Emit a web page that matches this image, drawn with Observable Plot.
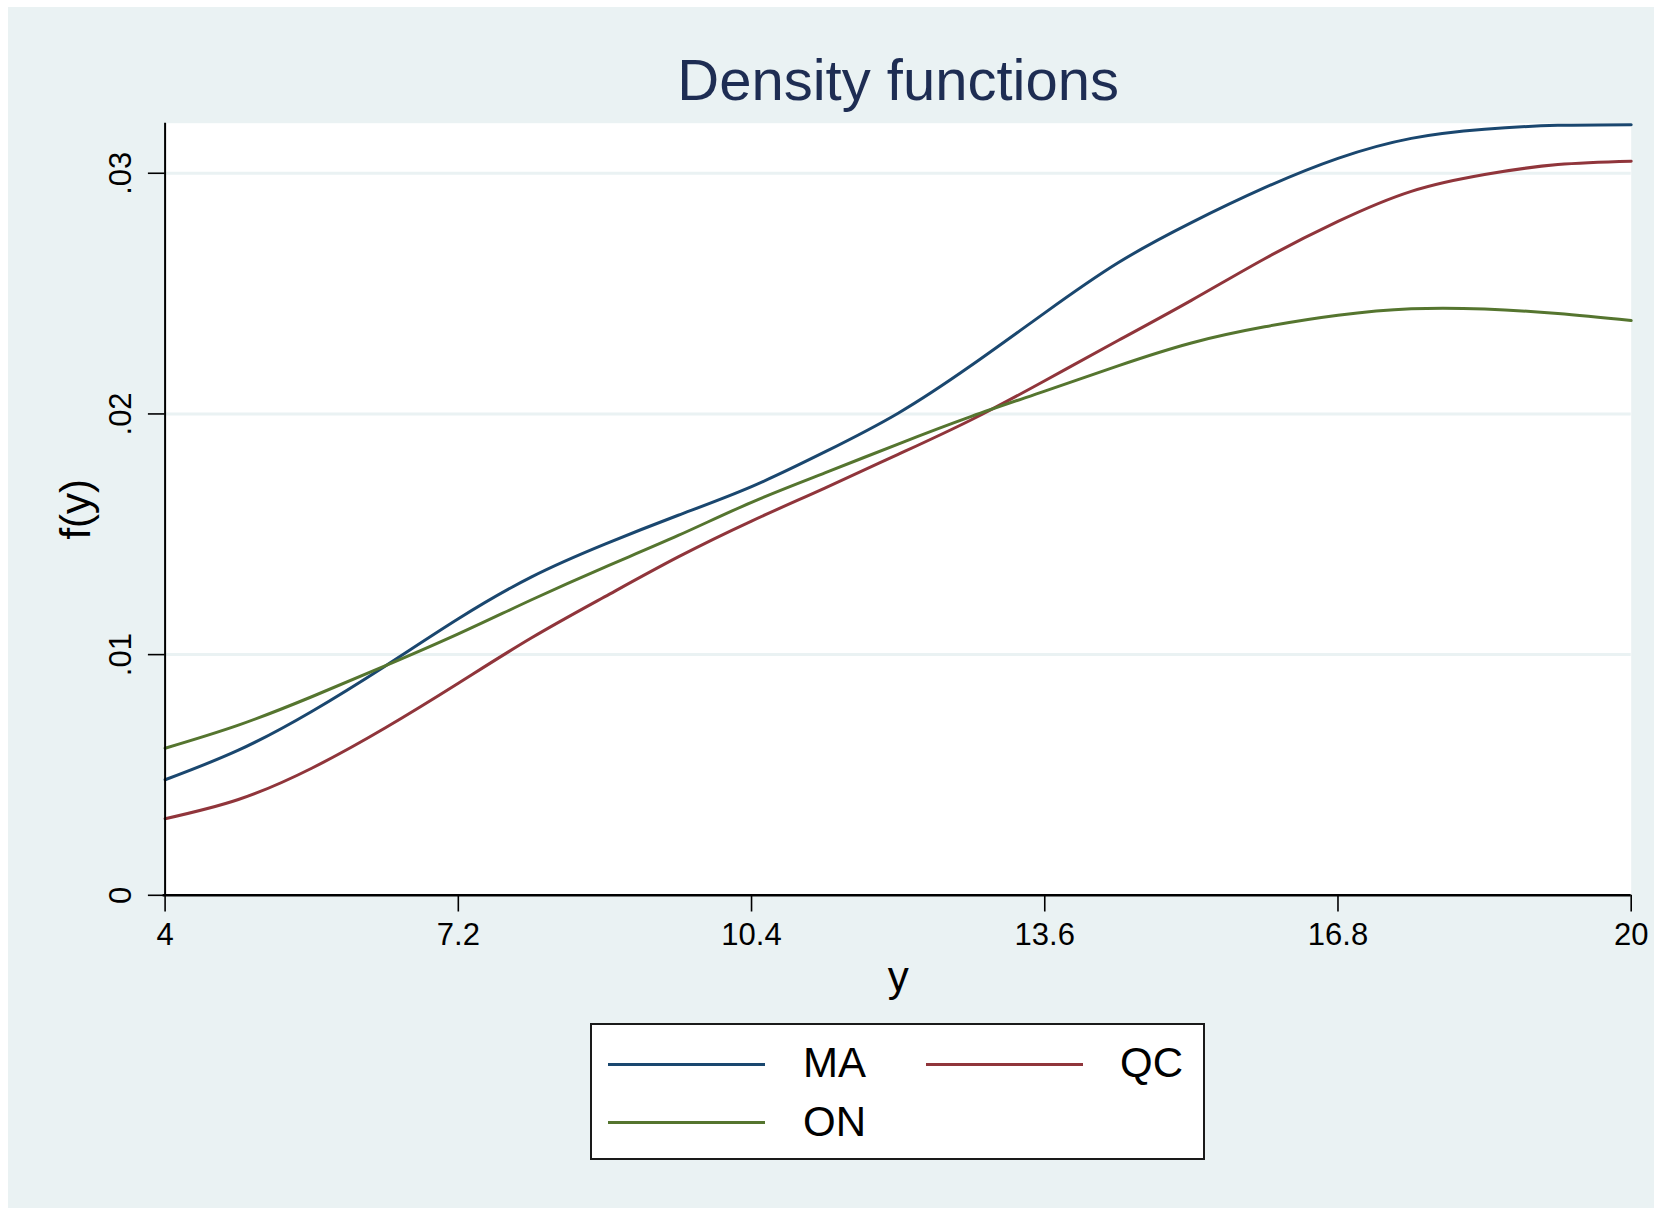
<!DOCTYPE html>
<html>
<head>
<meta charset="utf-8">
<script src="https://cdn.jsdelivr.net/npm/d3@7"></script>
<script src="https://cdn.jsdelivr.net/npm/@observablehq/plot@0.6"></script>
<style>
  html, body { margin: 0; padding: 0; background: #ffffff; }
  #wrap { position: relative; width: 1665px; height: 1212px; overflow: hidden; font-family: "Liberation Sans", Arial, sans-serif; }
  #panel { position: absolute; left: 8px; top: 7px; width: 1646px; height: 1201px; background: #eaf2f3; }
  #chart { position: absolute; left: 0; top: 0; }
  #legend { position: absolute; left: 590px; top: 1023px; width: 611px; height: 133px; background: #ffffff; border: 2px solid #1a1a1a; }
  .lg-line { position: absolute; height: 3.3px; width: 157px; }
  .lg-text { position: absolute; font-size: 42px; line-height: 1; color: #000; }
</style>
</head>
<body>
<div id="wrap">
  <div id="panel"></div>
  <div id="chart"></div>
  <div id="legend"></div>
</div>
<script>
// ---- data ----
const xs = [4, 4.8, 5.6, 6.4, 7.2, 8.0, 8.8, 9.6, 10.4, 11.2, 12.0, 12.8, 13.6, 14.4, 15.2, 16.0, 16.8, 17.6, 18.4, 19.2, 20];
const maValues = [0.00480, 0.00603, 0.00764, 0.00952, 0.01149, 0.01323, 0.01459, 0.01579, 0.01698, 0.01842, 0.02003, 0.02202, 0.02420, 0.02628, 0.02795, 0.02940, 0.03062, 0.03145, 0.03183, 0.03199, 0.03202];
const qcValues = [0.00318, 0.00398, 0.00528, 0.00695, 0.00881, 0.01070, 0.01241, 0.01406, 0.01555, 0.01692, 0.01832, 0.01976, 0.02138, 0.02305, 0.02472, 0.02645, 0.02800, 0.02925, 0.02995, 0.03036, 0.03050];
const onValues = [0.00611, 0.00707, 0.00825, 0.00953, 0.01086, 0.01228, 0.01364, 0.01495, 0.01633, 0.01755, 0.01875, 0.01990, 0.02095, 0.02200, 0.02295, 0.02362, 0.02410, 0.02437, 0.02436, 0.02417, 0.02388];
const seriesNames = ["MA", "QC", "ON"];
const seriesColors = ["#1a476f", "#90353b", "#55752f"];
const xTicks = [4, 7.2, 10.4, 13.6, 16.8, 20];
const xTickLabels = ["4", "7.2", "10.4", "13.6", "16.8", "20"];
const yTicks = [0, 0.01, 0.02, 0.03];
const yTickLabels = ["0", ".01", ".02", ".03"];
const titleText = "Density functions";
const xTitle = "y";
const yTitle = "f(y)";

// ---- build table ----
const seriesValues = [maValues, qcValues, onValues];
const rows = [];
seriesNames.forEach((s, k) => xs.forEach((x, i) => rows.push({x, y: seriesValues[k][i], s})));

const font = "'Liberation Sans', Arial, sans-serif";
const tickLen = 16.7;
const xPerUnit = (1630.7 - 164.6) / 16;
const yPerUnit = 24070;

const chart = Plot.plot({
  width: 1665,
  height: 1010,
  marginLeft: 164.6,
  marginRight: 34.3,
  marginTop: 122.7,
  marginBottom: 115.2,
  x: {domain: [4, 20], axis: null},
  y: {domain: [0, 0.03208], axis: null},
  color: {domain: seriesNames, range: seriesColors},
  style: {background: "transparent", fontFamily: font, overflow: "visible"},
  marks: [
    Plot.frame({fill: "white", stroke: null}),
    Plot.ruleY(yTicks.slice(1), {stroke: "#eaf2f3", strokeWidth: 3}),
    Plot.line(rows, {x: "x", y: "y", z: "s", stroke: "s", strokeWidth: 3, curve: "natural"}),
    Plot.ruleX([4], {stroke: "#000", strokeWidth: 2}),
    Plot.ruleY([0], {stroke: "#000", strokeWidth: 2.5, x1: 4 - 2 / xPerUnit, x2: 20}),
    Plot.ruleX(xTicks, {x: d => d, y1: 0, y2: -tickLen / yPerUnit, stroke: "#000", strokeWidth: 1.6}),
    Plot.ruleY(yTicks, {y: d => d, x1: 4, x2: 4 - tickLen / xPerUnit, stroke: "#000", strokeWidth: 1.6}),
    Plot.text(xTicks, {x: d => d, y: 0, text: (d, i) => xTickLabels[i], dy: 49.2, lineAnchor: "bottom", fontSize: 31, fill: "#000"}),
    Plot.text(yTicks, {x: 4, y: d => d, text: (d, i) => yTickLabels[i], rotate: -90, dx: -33.9, textAnchor: "middle", lineAnchor: "bottom", fontSize: 31, fill: "#000"}),
    Plot.text([xTitle], {frameAnchor: "bottom", text: d => d, dy: 95.2, textAnchor: "middle", lineAnchor: "bottom", fontSize: 42, fill: "#000"}),
    Plot.text([yTitle], {frameAnchor: "left", text: d => d, rotate: -90, dx: -75.6, textAnchor: "middle", lineAnchor: "bottom", fontSize: 42, fill: "#000"}),
    Plot.text([titleText], {frameAnchor: "top", text: d => d, dy: -23.7, textAnchor: "middle", lineAnchor: "bottom", fontSize: 58, fill: "#1e2d53"})
  ]
});
document.getElementById("chart").appendChild(chart);

// ---- legend ----
const legend = document.getElementById("legend");
const legendPos = [
  {lineLeft: 16, lineTop: 37.5, textLeft: 211, textTop: 17},
  {lineLeft: 334, lineTop: 37.5, textLeft: 528, textTop: 17},
  {lineLeft: 16, lineTop: 96, textLeft: 211, textTop: 75.5}
];
seriesNames.forEach((name, i) => {
  const p = legendPos[i];
  const ln = document.createElement("div");
  ln.className = "lg-line";
  ln.style.left = p.lineLeft + "px";
  ln.style.top = p.lineTop + "px";
  ln.style.background = seriesColors[i];
  legend.appendChild(ln);
  const tx = document.createElement("div");
  tx.className = "lg-text";
  tx.style.left = p.textLeft + "px";
  tx.style.top = p.textTop + "px";
  tx.textContent = name;
  legend.appendChild(tx);
});
</script>
</body>
</html>
